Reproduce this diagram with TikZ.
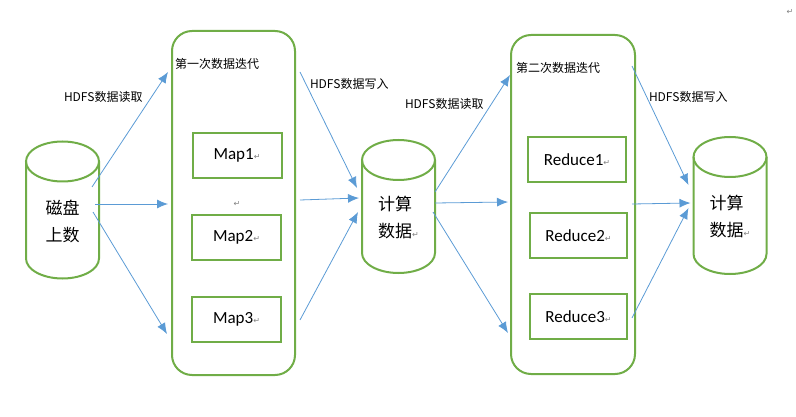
\documentclass[tikz,border=0pt]{standalone}
\usepackage{fontspec}
\setmainfont{Carlito}
\newfontfamily\cjk{Noto Sans CJK SC}
\newfontfamily\symb{DejaVu Sans}
\usetikzlibrary{arrows.meta,calc}
\definecolor{boxgreen}{HTML}{70AD47}
\definecolor{arrowblue}{HTML}{5B9BD5}
\newcommand{\ret}{{\symb\color{gray}\fontsize{8}{8}\selectfont ↵}}
% outline of a drum round a named node
\newcommand{\drumshape}[1]{%
  \draw[drumline] ($(#1.north)+(0,20)$) ellipse [x radius=36.5pt, y radius=20pt];
  \draw[drumline] ($(#1.north west)+(0,20)$) -- ($(#1.south west)+(0,-20)$)
    arc [start angle=180, end angle=360, x radius=36.5pt, y radius=20pt] -- ($(#1.north east)+(0,20)$);}

\begin{document}
\begin{tikzpicture}[x=1pt,y=-1pt]
\def\linecol{boxgreen}

\tikzset{every node/.style={inner sep=0pt, outer sep=0pt}}
\tikzset{drum/.style={rectangle, draw=none, minimum width=73pt, minimum height=137pt}}
\tikzset{drumline/.style={draw=\linecol, line width=2pt}}
\tikzset{drumtxt/.style={align=left, font=\cjk\fontsize{17}{27}\selectfont}}
\tikzset{iter/.style={draw=\linecol, line width=2pt, rounded corners=20pt, minimum width=123pt}}
\tikzset{task/.style={draw=\linecol, line width=2pt, font=\fontsize{17}{17}\selectfont, minimum height=45pt}}
\tikzset{lbl/.style={font=\cjk\fontsize{12}{12}\selectfont, anchor=west}}
\tikzset{arr/.style={-{Latex[length=11pt,width=9pt]}, draw=arrowblue, line width=.8pt}}
\useasboundingbox (0,0) rectangle (796,417);
%%%%%%
\node(disk)at(62.5,210)[drum, label={[drumtxt,yshift=-11pt]center:{磁盘\\上数}}]{};
\drumshape{disk}

%%%%%%% first iteration
\node(iter1)at(233.5,203)[iter,minimum height=344pt]{};
\node(iter1lbl)at($(iter1.north west)+(3,33)$)[lbl]{第一次数据迭代};
\node(map1)at(237,155.5)[task,minimum width=89pt]{Map1\ret};
\node(ret1)at(237,204)[]{\ret};
\node(map2)at(236.5,237.5)[task,minimum width=89pt]{Map2\ret};
\node(map3)at(236.5,319.5)[task,minimum width=89pt]{Map3\ret};

%%%%%%% intermediate data
\node(calc1)at(398.5,206.5)[drum,minimum height=133pt, label={[drumtxt,yshift=-11pt]center:{计算\\数据\ret}}]{};
\drumshape{calc1}

%%%%%%% second iteration
\node(iter2)at(573,204.5)[iter,minimum width=124pt,minimum height=339pt]{};
\node(iter2lbl)at($(iter2.north west)+(5,33)$)[lbl]{第二次数据迭代};
\node(red1)at(577,159.5)[task,minimum width=98pt]{Reduce1\ret};
\node(red2)at(578.5,235.5)[task,minimum width=97pt]{Reduce2\ret};
\node(red3)at(578.5,316.5)[task,minimum width=97pt]{Reduce3\ret};

%%%%%%% result data
\node(calc2)at(730,205.5)[drum, label={[drumtxt,yshift=-11pt]center:{计算\\数据\ret}}]{};
\drumshape{calc2}
\node(ret2)at(790,12)[]{\ret};

%%%%%%% labels
\node(read1)at(64,97)[lbl]{HDFS数据读取};
\node(write1)at(310,84)[lbl]{HDFS数据写入};
\node(read2)at(405,104)[lbl]{HDFS数据读取};
\node(write2)at(649,97)[lbl]{HDFS数据写入};

%%%%%%% arrows
\path ([shift={(-7,-23)}]disk.east) edge[arr] ([shift={(-4,41)}]iter1.north west);
\path ([shift={(-4,-6)}]disk.east) edge[arr] ([shift={(-4,1)}]iter1.west);
\path ([shift={(-6,2)}]disk.east) edge[arr] ([shift={(-5,-41)}]iter1.south west);
\path ([shift={(5,41)}]iter1.north east) edge[arr] ([shift={(-5,-18.5)}]calc1.west);
\path ([shift={(5,-3)}]iter1.east) edge[arr] ([shift={(-3,-8.5)}]calc1.west);
\path ([shift={(5,-55)}]iter1.south east) edge[arr] ([shift={(-4,5.5)}]calc1.west);
\path ([shift={(0,-14.5)}]calc1.east) edge[arr] ([shift={(-1,40)}]iter2.north west);
\path ([shift={(0,-3.5)}]calc1.east) edge[arr] ([shift={(-3,-2.5)}]iter2.west);
\path ([shift={(-2,5.5)}]calc1.east) edge[arr] ([shift={(-3,-41)}]iter2.south west);
\path ([shift={(-3,31)}]iter2.north east) edge[arr] ([shift={(-5,-20.5)}]calc2.west);
\path ([shift={(-3,-0.5)}]iter2.east) edge[arr] ([shift={(-3,-2.5)}]calc2.west);
\path ([shift={(-3,-56)}]iter2.south east) edge[arr] ([shift={(-5,2.5)}]calc2.west);
\end{tikzpicture}
\end{document}
